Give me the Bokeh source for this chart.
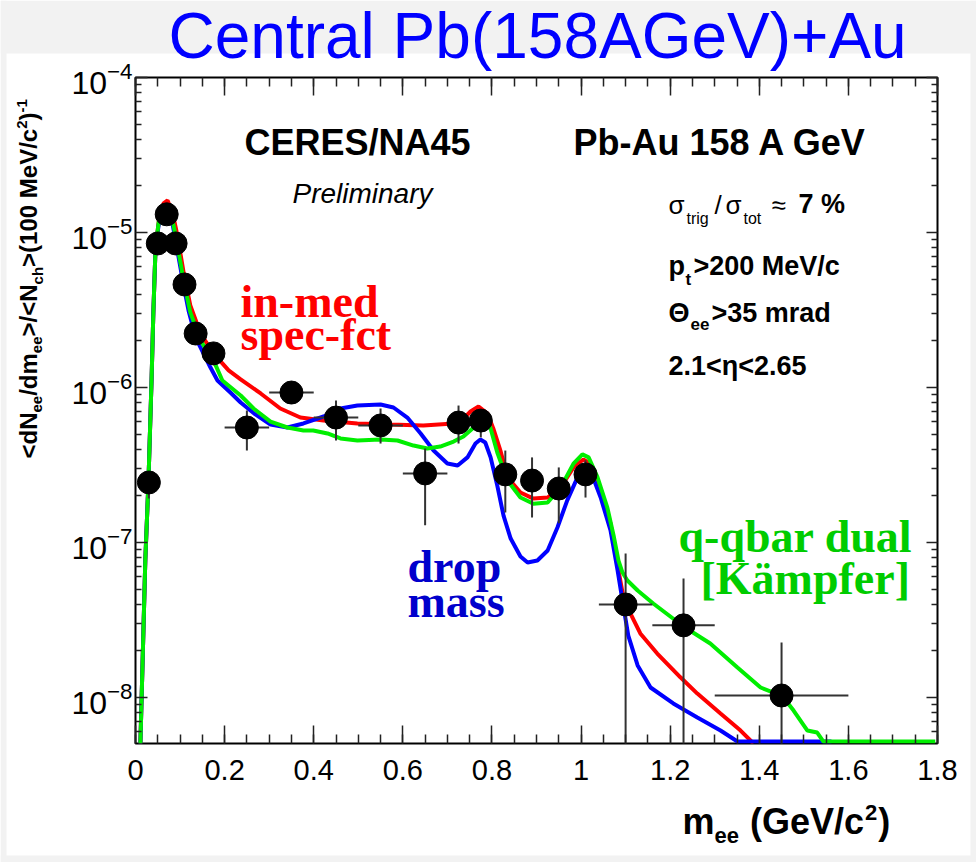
import math
from bokeh.plotting import figure
from bokeh.models import (Range1d, FixedTicker, LogAxis, LinearAxis, Label, GridBox)
from bokeh.embed import file_html
from bokeh.resources import INLINE

# ---------------- data ----------------
mass = [0.03, 0.05, 0.07, 0.09, 0.11, 0.135, 0.175, 0.25, 0.35, 0.45, 0.55, 0.65,
        0.725, 0.775, 0.83, 0.89, 0.95, 1.01, 1.10, 1.23, 1.45]
dndm = [2.44e-7, 8.5e-6, 1.31e-5, 8.5e-6, 4.62e-6, 2.23e-6, 1.66e-6, 5.52e-7, 9.28e-7,
        6.40e-7, 5.69e-7, 2.79e-7, 5.94e-7, 6.12e-7, 2.75e-7, 2.51e-7, 2.23e-7, 2.75e-7,
        3.98e-8, 2.92e-8, 1.03e-8]
mass_err = [0, 0, 0, 0, 0, 0, 0, 0.05, 0.05, 0.05, 0.05, 0.05,
            0.02, 0.02, 0.025, 0.025, 0.02, 0.02, 0.06, 0.07, 0.15]
dndm_hi = [2.79e-7, 8.9e-6, 1.37e-5, 8.9e-6, 4.85e-6, 2.35e-6, 1.75e-6, 7.11e-7, 1.08e-6,
           8.24e-7, 7.32e-7, 4.04e-7, 7.65e-7, 7.11e-7, 3.92e-7, 3.54e-7, 3.05e-7, 3.39e-7,
           8.49e-8, 5.86e-8, 2.26e-8]
dndm_lo = [1.92e-7, 8.1e-6, 1.25e-5, 8.1e-6, 4.4e-6, 2.1e-6, 1.57e-6, 3.92e-7, 7.88e-7,
           4.55e-7, 4.35e-7, 1.29e-7, 4.35e-7, 4.76e-7, 1.56e-7, 1.45e-7, 1.33e-7, 1.95e-7,
           1e-10, 1e-10, 1e-10]

# in-medium spectral function (red)
red_m = [0.011, 0.022, 0.029, 0.036, 0.040, 0.045, 0.054, 0.063, 0.072, 0.083, 0.094, 0.108,
         0.123, 0.146, 0.175, 0.209, 0.236, 0.281, 0.325, 0.370, 0.422, 0.498, 0.572, 0.646,
         0.714, 0.741, 0.752, 0.770, 0.790, 0.803, 0.819, 0.835, 0.864, 0.893, 0.925, 0.954,
         0.983, 1.005, 1.021, 1.044, 1.066, 1.084, 1.095, 1.111, 1.133, 1.171, 1.223, 1.261,
         1.313, 1.358, 1.387]
red_y = [5.05e-9, 7.65e-8, 2.44e-7, 1.11e-6, 3.0e-6, 8.0e-6, 1.29e-5, 1.54e-5, 1.61e-5, 1.35e-5,
         9.56e-6, 5.52e-6, 3.38e-6, 2.23e-6, 1.66e-6, 1.29e-6, 1.13e-6, 9.15e-7, 7.32e-7, 6.40e-7,
         6.12e-7, 5.86e-7, 5.77e-7, 5.69e-7, 5.86e-7, 6.50e-7, 7.0e-7, 7.54e-7, 6.80e-7, 5.44e-7,
         3.92e-7, 2.63e-7, 2.10e-7, 1.92e-7, 1.95e-7, 2.26e-7, 3.05e-7, 3.43e-7, 3.23e-7, 2.17e-7,
         1.33e-7, 6.6e-8, 4.42e-8, 3.48e-8, 2.59e-8, 1.92e-8, 1.35e-8, 1.06e-8, 7.88e-9, 6.12e-9,
         5.05e-9]

# dropping mass (blue)
blue_m = [0.011, 0.022, 0.029, 0.036, 0.040, 0.045, 0.054, 0.067, 0.081, 0.092, 0.108, 0.119,
          0.135, 0.168, 0.184, 0.213, 0.236, 0.269, 0.303, 0.341, 0.377, 0.422, 0.460, 0.498,
          0.550, 0.579, 0.610, 0.640, 0.669, 0.700, 0.723, 0.745, 0.763, 0.774, 0.785, 0.797,
          0.812, 0.826, 0.842, 0.864, 0.880, 0.902, 0.925, 0.947, 0.969, 0.992, 1.005, 1.021,
          1.044, 1.066, 1.082, 1.093, 1.106, 1.127, 1.156, 1.207, 1.261, 1.313, 1.351, 1.562]
blue_y = [5.05e-9, 7.65e-8, 2.44e-7, 1.11e-6, 3.0e-6, 8.0e-6, 1.23e-5, 1.39e-5, 1.23e-5, 8.24e-6,
          4.55e-6, 3.14e-6, 2.10e-6, 1.35e-6, 1.11e-6, 9.28e-7, 8.0e-7, 6.70e-7, 5.77e-7, 5.52e-7,
          5.86e-7, 6.50e-7, 7.32e-7, 7.65e-7, 7.77e-7, 7.43e-7, 6.40e-7, 5.05e-7, 3.92e-7, 3.23e-7,
          3.14e-7, 3.54e-7, 4.35e-7, 4.62e-7, 4.42e-7, 3.54e-7, 2.33e-7, 1.49e-7, 1.06e-7, 8.12e-8,
          7.43e-8, 7.65e-8, 8.88e-8, 1.25e-7, 1.87e-7, 2.63e-7, 3.05e-7, 2.91e-7, 1.95e-7, 1.20e-7,
          6.6e-8, 4.22e-8, 2.51e-8, 1.61e-8, 1.16e-8, 9.15e-9, 7.43e-9, 6.12e-9, 5.2e-9, 5.2e-9]

# q-qbar dual (green)
green_m = [0.011, 0.022, 0.029, 0.036, 0.040, 0.045, 0.054, 0.067, 0.081, 0.092, 0.108, 0.123,
           0.146, 0.180, 0.195, 0.236, 0.265, 0.303, 0.341, 0.377, 0.399, 0.431, 0.460, 0.498,
           0.550, 0.588, 0.624, 0.655, 0.684, 0.714, 0.736, 0.759, 0.774, 0.785, 0.797, 0.812,
           0.835, 0.864, 0.893, 0.925, 0.954, 0.983, 1.003, 1.017, 1.037, 1.059, 1.073, 1.084,
           1.093, 1.104, 1.127, 1.162, 1.230, 1.290, 1.351, 1.403, 1.452, 1.477, 1.508, 1.530,
           1.544, 1.795]
green_y = [5.05e-9, 7.65e-8, 2.44e-7, 1.11e-6, 3.0e-6, 8.0e-6, 1.29e-5, 1.43e-5, 1.29e-5, 8.88e-6,
           4.90e-6, 3.05e-6, 2.01e-6, 1.39e-6, 1.11e-6, 8.88e-7, 7.32e-7, 6.03e-7, 5.52e-7, 5.28e-7,
           5.28e-7, 5.05e-7, 4.69e-7, 4.55e-7, 4.62e-7, 4.55e-7, 4.22e-7, 4.04e-7, 4.16e-7, 4.48e-7,
           4.83e-7, 5.52e-7, 6.12e-7, 6.31e-7, 5.44e-7, 3.81e-7, 2.51e-7, 1.95e-7, 1.78e-7, 1.81e-7,
           2.26e-7, 3.23e-7, 3.70e-7, 3.54e-7, 2.63e-7, 1.68e-7, 1.11e-7, 7.65e-8, 6.40e-8, 5.69e-8,
           4.90e-8, 4.04e-8, 2.87e-8, 2.23e-8, 1.56e-8, 1.16e-8, 1.02e-8, 8.24e-9, 6.12e-9, 5.94e-9,
           5.2e-9, 5.2e-9]

x_ticks = [0, 0.2, 0.4, 0.6, 0.8, 1, 1.2, 1.4, 1.6, 1.8]
x_tick_labels = ["0", "0.2", "0.4", "0.6", "0.8", "1", "1.2", "1.4", "1.6", "1.8"]
y_ticks = [1e-8, 1e-7, 1e-6, 1e-5, 1e-4]

# ---------------- geometry ----------------
W, H = 976, 862
FL, FR, FT, FB = 135, 937, 77, 743
X0, X1 = 0.0, 1.8
LOG_TOP = -4.0
LOG_BOT = -4.0 - (FB - FT) / 155.0
Y_MIN, Y_MAX = 10 ** LOG_BOT, 10 ** LOG_TOP
GREY = "#f2f2f2"
BASE_SHIFT = 0.42   # text baseline correction (fraction of font size)


def X(px):
    return X0 + (px - FL) / (FR - FL) * (X1 - X0)


def Y(py):
    return 10 ** (LOG_TOP - (py - FT) / (FB - FT) * (LOG_TOP - LOG_BOT))


# ---------- main plot (white slide panel) ----------
p = figure(width=W, height=H, x_range=Range1d(X0, X1), y_range=Range1d(Y_MIN, Y_MAX),
           y_axis_type="log", output_backend="svg", toolbar_location=None,
           min_border_left=FL, min_border_right=W - FR, min_border_top=FT,
           min_border_bottom=H - FB)
p.background_fill_color = "white"
p.border_fill_color = "white"
p.outline_line_color = "black"
p.outline_line_width = 2
p.grid.visible = False

x_minor = [round(i * 0.05, 2) for i in range(0, 37)]
y_minor = [m * 10.0 ** e for e in range(-9, -4) for m in range(2, 10)]
xt = FixedTicker(ticks=x_ticks, minor_ticks=x_minor)
yt = FixedTicker(ticks=y_ticks, minor_ticks=y_minor)

for ax in p.xaxis:
    ax.ticker = xt
    ax.major_label_overrides = {t: s for t, s in zip(x_ticks, x_tick_labels)}
for ax in p.yaxis:
    ax.ticker = yt


def style_axis(ax, show_labels, tin, tmin):
    ax.axis_line_color = None
    ax.major_tick_in = tin
    ax.major_tick_out = 0
    ax.minor_tick_in = tmin
    ax.minor_tick_out = 0
    ax.major_tick_line_color = "#222222"
    ax.minor_tick_line_color = "#222222"
    ax.major_tick_line_width = 1.5
    ax.minor_tick_line_width = 1.5
    ax.major_label_text_font = "Liberation Sans"
    ax.major_label_text_color = "black"
    if not show_labels:
        ax.major_label_text_font_size = "0px"
        ax.major_label_text_alpha = 0


style_axis(p.xaxis[0], True, 18, 9)
p.xaxis[0].major_label_text_font_size = "29px"
p.xaxis[0].major_label_standoff = 16
style_axis(p.yaxis[0], True, 12, 6)
p.yaxis[0].major_label_text_font_size = "32px"
p.yaxis[0].major_label_standoff = 3

top_ax = LinearAxis(ticker=xt)
style_axis(top_ax, False, 18, 9)
p.add_layout(top_ax, "above")
right_ax = LogAxis(ticker=yt)
style_axis(right_ax, False, 11, 6)
p.add_layout(right_ax, "right")

# curves
p.line(red_m, red_y, line_color="#ff0000", line_width=4)
p.line(blue_m, blue_y, line_color="#0000ff", line_width=4)
p.line(green_m, green_y, line_color="#00ee00", line_width=4)

# data points with error bars
x_lo = [m - e for m, e in zip(mass, mass_err)]
x_hi = [m + e for m, e in zip(mass, mass_err)]
p.segment(x0=x_lo, y0=dndm, x1=x_hi, y1=dndm, line_color="#333333", line_width=2)
p.segment(x0=mass, y0=dndm_lo, x1=mass, y1=dndm_hi, line_color="#333333", line_width=2)
p.scatter(mass, dndm, marker="circle", size=23, fill_color="black", line_color="black")

# ---------- transparent overlay page (grey slide margins, outer texts) ----------
ov = figure(width=W, height=H, x_range=Range1d(0, W), y_range=Range1d(0, H),
            output_backend="svg", toolbar_location=None, min_border=0,
            x_axis_location=None, y_axis_location=None)
ov.outline_line_color = None
ov.background_fill_color = None
ov.background_fill_alpha = 0
ov.border_fill_color = None
ov.border_fill_alpha = 0
ov.grid.visible = False
ov.quad(left=[0, 0, 970, 0], right=[W, 6, W, W],
        top=[H, H, H, H - 855], bottom=[H - 53, 0, 0, 0],
        fill_color=GREY, line_color=None)

# the two pages sit in the same grid cell: do not let the grid align their frames
for fig in (p, ov):
    try:
        fig.frame_align = False
    except Exception:
        pass


# ---------------- texts ----------------
def lab(text, px, py, size, color="black", font="Liberation Sans", style="normal",
        align="left"):
    """Text inside the plot frame; py is the wanted baseline (pixels from top)."""
    p.add_layout(Label(x=X(px), y=Y(py - BASE_SHIFT * size), text=text, text_font=font,
                       text_font_size=f"{size}px", text_font_style=style,
                       text_color=color, text_align=align, text_baseline="alphabetic"))


def outer(text, px, py, size, color="black", font="Liberation Sans", style="normal",
          rotated=False):
    """Text on the slide outside the frame (drawn on the overlay page)."""
    if rotated:
        xx, yy, ang = px - BASE_SHIFT * size, H - py, math.pi / 2
    else:
        xx, yy, ang = px, H - (py - BASE_SHIFT * size), 0.0
    ov.add_layout(Label(x=xx, y=yy, text=text, text_font=font,
                        text_font_size=f"{size}px", text_font_style=style,
                        text_color=color, text_align="left",
                        text_baseline="alphabetic", angle=ang))


# title (on the slide)
outer("Central Pb(158AGeV)+Au", 168, 62, 64, color="#0000ff")

# header
lab("CERES/NA45", 357, 157, 36, style="bold", align="center")
lab("Pb-Au 158 A GeV", 720, 157, 36, style="bold", align="center")
lab("Preliminary", 362, 205, 28, style="italic", align="center")

# cuts
lab("σ", 668, 215, 26)
lab("trig", 686, 225, 16)
lab("/", 714, 215, 26)
lab("σ", 725, 215, 26)
lab("tot", 743, 225, 16)
lab("≈", 771, 215, 26)
lab("7 %", 798, 215, 27, style="bold")
lab("p", 668, 277, 27, style="bold")
lab("t", 685, 286, 17, style="bold")
lab(">200 MeV/c", 693, 277, 27, style="bold")
lab("Θ", 668, 324, 27, style="bold")
lab("ee", 690, 331, 17, style="bold")
lab(">35 mrad", 711, 324, 27, style="bold")
lab("2.1<η<2.65", 668, 377, 27, style="bold")

# model labels
SERIF = "Liberation Serif"
lab("in-med", 240, 320, 46, color="#ff0000", font=SERIF, style="bold")
lab("spec-fct", 240, 353, 46, color="#ff0000", font=SERIF, style="bold")
lab("drop", 407, 585, 46, color="#0000cc", font=SERIF, style="bold")
lab("mass", 407, 620, 46, color="#0000cc", font=SERIF, style="bold")
lab("q-qbar dual", 678, 555, 46, color="#00cc00", font=SERIF, style="bold")
lab("[Kämpfer]", 700, 597, 46, color="#00cc00", font=SERIF, style="bold")

# axis titles built from pieces (sub/superscripts); (text, size, shift, gap-before)
BW = {'<': .584, '>': .584, 'd': .611, 'N': .722, 'e': .556, '/': .278, 'm': .889,
      'c': .556, 'h': .611, '(': .333, ')': .333, '1': .556, '0': .556, ' ': .278,
      'M': .833, 'V': .667, '2': .556, '-': .333, 'G': .778}


def tw(s, size):
    return sum(BW.get(c, 0.556) for c in s) * size


pieces_x = [("m", 36, 0, 0), ("ee", 22, 8, 0), ("(GeV/c", 36, 0, 11), ("2", 22, -15, 1),
            (")", 36, 0, 1)]
cx = 682
for txt, sz, dy, gap in pieces_x:
    cx += gap
    outer(txt, cx, 836 + dy, sz, style="bold")
    cx += tw(txt, sz)

pieces_y = [("<dN", 24, 0), ("ee", 15, 5), ("/dm", 24, 0), ("ee", 15, 5), (">/<N", 24, 0),
            ("ch", 15, 5), (">(100 MeV/c", 24, 0), ("2", 15, -10), (")", 24, 0), ("-1", 15, -10)]
cy = 458
for txt, sz, dx in pieces_y:
    outer(txt, 38 + dx, cy, sz, style="bold", rotated=True)
    cy -= tw(txt, sz)

root = GridBox(children=[(p, 0, 0), (ov, 0, 0)])
open("out.html", "w").write(file_html(root, INLINE))
